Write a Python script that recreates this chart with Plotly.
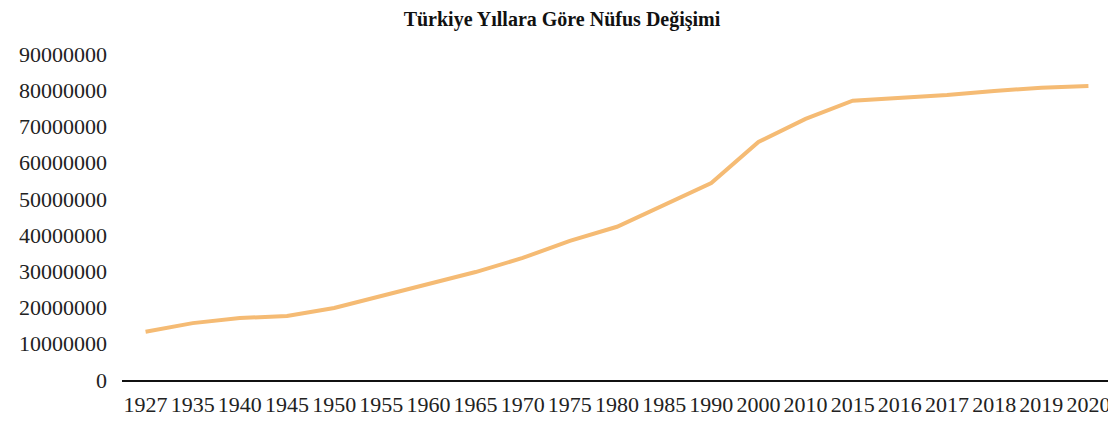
import plotly.graph_objects as go

years = ["1927", "1935", "1940", "1945", "1950", "1955", "1960", "1965", "1970", "1975",
         "1980", "1985", "1990", "2000", "2010", "2015", "2016", "2017", "2018", "2019", "2020"]
population = [13300000, 15700000, 17100000, 17700000, 19900000, 23200000, 26500000, 29800000,
              33700000, 38400000, 42300000, 48300000, 54400000, 65700000, 72100000, 77100000,
              77900000, 78700000, 79800000, 80700000, 81200000]
y_ticks = [0, 10000000, 20000000, 30000000, 40000000, 50000000, 60000000, 70000000, 80000000, 90000000]

fig = go.Figure()
fig.add_trace(go.Scatter(
    x=years, y=population, mode="lines",
    line=dict(color="#F5BB74", width=4),
    showlegend=False,
))

font_family = "Liberation Serif, Times New Roman, serif"

# page body has an 8px default margin, so the figure is sized to fit the 1116x432 window
fig.update_layout(
    width=1108, height=424,
    margin=dict(l=114, r=4, t=46, b=52),
    paper_bgcolor="white", plot_bgcolor="white",
    title=dict(text="<b>Türkiye Yıllara Göre Nüfus Değişimi</b>",
               x=0.5, xanchor="center", y=0.975, yanchor="middle",
               font=dict(family=font_family, size=20, color="#111111")),
    font=dict(family=font_family, color="#222222"),
)
fig.update_xaxes(
    type="category", range=[-0.5, len(years) - 0.5],
    showgrid=False, showline=True, linecolor="#111111", linewidth=2,
    ticks="", tickangle=0, tickfont=dict(family=font_family, size=22, color="#222222"),
    ticklabelstandoff=4,
)
fig.update_yaxes(
    range=[0, 90000000], tickvals=y_ticks, ticktext=[str(v) for v in y_ticks],
    showgrid=False, zeroline=False, showline=False, ticks="",
    tickfont=dict(family=font_family, size=22, color="#222222"),
    ticklabelstandoff=14,
)

fig.write_html("out.html")
